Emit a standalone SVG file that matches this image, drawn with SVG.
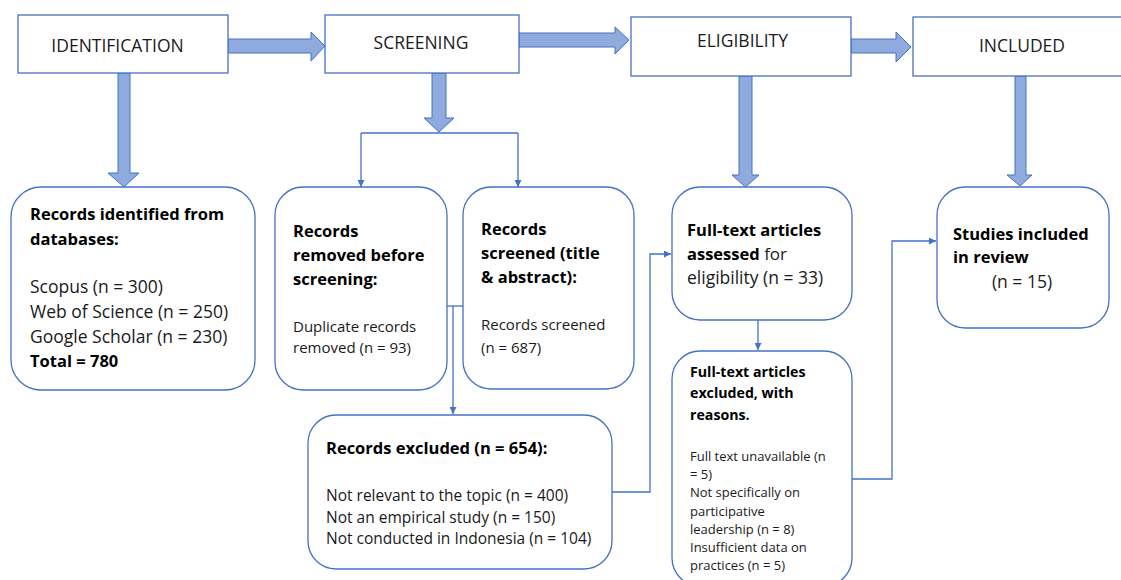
<svg xmlns="http://www.w3.org/2000/svg" width="1121" height="580" viewBox="0 0 1121 580">
<defs>
<style>
.stage{fill:#fff;stroke:#4472C4;stroke-width:1.3}
.box{fill:#fff;stroke:#4472C4;stroke-width:1.3}
.big{fill:#8FAADC;stroke:#4472C4;stroke-width:1}
.conn{fill:none;stroke:#4472C4;stroke-width:1.3;marker-end:url(#ah)}
.line{fill:none;stroke:#4472C4;stroke-width:1.3}
text{font-family:"Open Sans","Liberation Sans",sans-serif;fill:#1a1a1a}
.cap{font-size:17.5px;text-anchor:middle}
.b{font-weight:bold;fill:#000}
</style>
<marker id="ah" viewBox="0 0 10 10" refX="10" refY="5" markerWidth="7" markerHeight="7" markerUnits="userSpaceOnUse" orient="auto">
<path d="M0,0 L10,5 L0,10 z" fill="#4472C4"/>
</marker>
</defs>
<rect width="1121" height="580" fill="#fff"/>

<g id="connectors">
<polygon class="big" points="228,39 311,39 311,32 325,46 311,61 311,53 228,53"/>
<polygon class="big" points="519,33 615,33 615,27 629,40 615,54 615,47 519,47"/>
<polygon class="big" points="851,39 896,39 896,32 911,47 896,62 896,53 851,53"/>
<polygon class="big" points="118,73 130,73 130,173 139,173 124,187 108,173 118,173"/>
<polygon class="big" points="432,73 446,73 446,118 454,118 439,132 424,118 432,118"/>
<polygon class="big" points="739,76 752,76 752,175 759,175 745.5,187 732,175 739,175"/>
<polygon class="big" points="1015,76 1026,76 1026,175 1032,175 1020,186 1007,175 1015,175"/>
<path class="line" d="M361,133 H518"/>
<path class="conn" d="M361,133 V187"/>
<path class="conn" d="M518,133 V187"/>
<path class="line" d="M447,306 H463"/>
<path class="conn" d="M453,306 V414"/>
<path class="conn" d="M612,492 H650 V254 H671"/>
<path class="conn" d="M758,320 V350"/>
<path class="conn" d="M852,479 H892 V241 H936"/>
</g>

<g id="identification">
<rect class="stage" x="18" y="15" width="210" height="58"/>
<text class="cap" x="117.5" y="52">IDENTIFICATION</text>
</g>
<g id="screening">
<rect class="stage" x="325" y="15" width="194" height="58"/>
<text class="cap" x="421" y="49">SCREENING</text>
</g>
<g id="eligibility">
<rect class="stage" x="631" y="17" width="220" height="59"/>
<text class="cap" x="742.5" y="47">ELIGIBILITY</text>
</g>
<g id="included">
<rect class="stage" x="913" y="17" width="215" height="59"/>
<text class="cap" x="1022" y="52">INCLUDED</text>
</g>

<g id="records-identified">
<rect class="box" x="11" y="187" width="244" height="203" rx="30"/>
<text class="b" x="30" y="220" font-size="16.5">Records identified from</text>
<text class="b" x="30" y="245" font-size="16.5">databases:</text>
<text x="30" y="293" font-size="17.5">Scopus (n = 300)</text>
<text x="30" y="318" font-size="17.5">Web of Science (n = 250)</text>
<text x="30" y="343" font-size="17.5">Google Scholar (n = 230)</text>
<text class="b" x="30" y="367" font-size="16.5">Total = 780</text>
</g>

<g id="records-removed">
<rect class="box" x="275" y="187" width="172" height="203" rx="28"/>
<text class="b" x="293" y="237" font-size="16.5">Records</text>
<text class="b" x="293" y="261" font-size="16.5">removed before</text>
<text class="b" x="293" y="285" font-size="16.5">screening:</text>
<text x="293" y="332" font-size="15">Duplicate records</text>
<text x="293" y="353" font-size="15">removed (n = 93)</text>
</g>

<g id="records-screened">
<rect class="box" x="463" y="187" width="171" height="202" rx="28"/>
<text class="b" x="481" y="235" font-size="16.5">Records</text>
<text class="b" x="481" y="259" font-size="16.5">screened (title</text>
<text class="b" x="481" y="283" font-size="16.5">&amp; abstract):</text>
<text x="481" y="330" font-size="15">Records screened</text>
<text x="481" y="353" font-size="15">(n = 687)</text>
</g>

<g id="records-excluded">
<rect class="box" x="308" y="415" width="304" height="154" rx="28"/>
<text class="b" x="326" y="454" font-size="16.5">Records excluded (n = 654):</text>
<text x="326" y="501" font-size="15.5">Not relevant to the topic (n = 400)</text>
<text x="326" y="523" font-size="15.5">Not an empirical study (n = 150)</text>
<text x="326" y="544" font-size="15.5">Not conducted in Indonesia (n = 104)</text>
</g>

<g id="fulltext-assessed">
<rect class="box" x="672" y="187" width="180" height="133" rx="28"/>
<text class="b" x="687" y="236" font-size="16.5">Full-text articles</text>
<text x="687" y="260" font-size="17"><tspan class="b" font-size="16.5">assessed</tspan> for</text>
<text x="687" y="284" font-size="17.5">eligibility (n = 33)</text>
</g>

<g id="fulltext-excluded">
<rect class="box" x="672" y="351" width="180" height="235" rx="28"/>
<text class="b" x="690" y="377" font-size="14.2">Full-text articles</text>
<text class="b" x="690" y="398" font-size="14.2">excluded, with</text>
<text class="b" x="690" y="420" font-size="14.2">reasons.</text>
<text x="690" y="461" font-size="13">Full text unavailable (n</text>
<text x="690" y="479" font-size="13">= 5)</text>
<text x="690" y="497" font-size="13">Not specifically on</text>
<text x="690" y="516" font-size="13">participative</text>
<text x="690" y="534" font-size="13">leadership (n = 8)</text>
<text x="690" y="552" font-size="13">Insufficient data on</text>
<text x="690" y="570" font-size="13">practices (n = 5)</text>
</g>

<g id="studies-included">
<rect class="box" x="937" y="187" width="172" height="141" rx="28"/>
<text class="b" x="953" y="240" font-size="16.5">Studies included</text>
<text class="b" x="953" y="263" font-size="16.5">in review</text>
<text x="1022" y="288" font-size="17.5" text-anchor="middle">(n = 15)</text>
</g>
</svg>
